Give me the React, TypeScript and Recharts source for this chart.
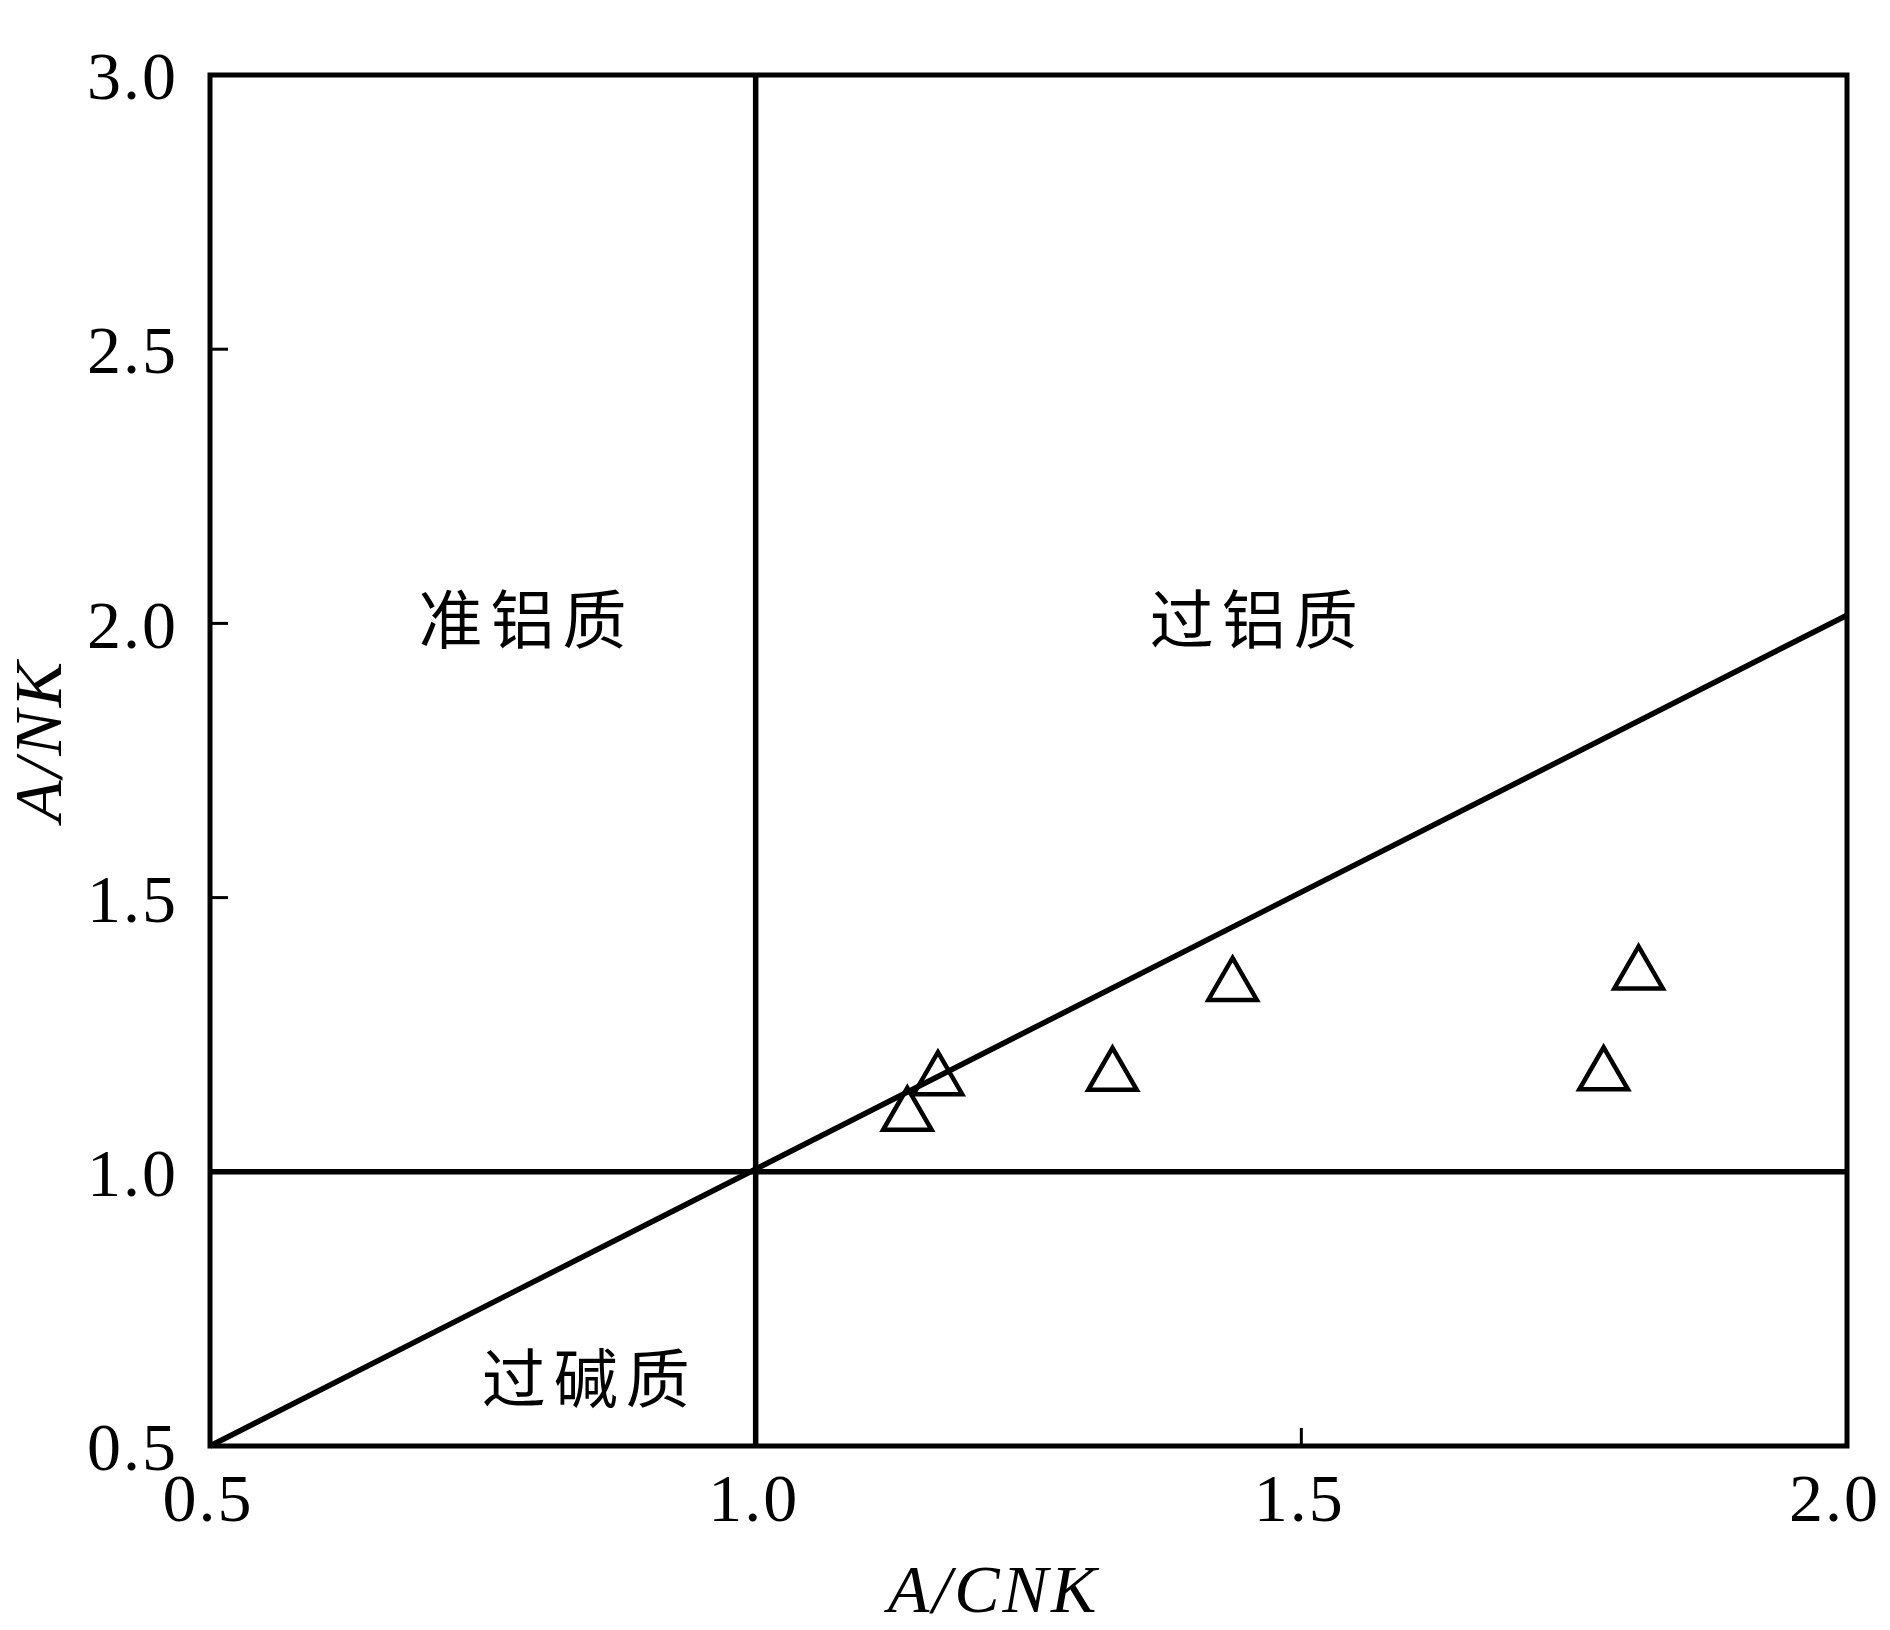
import React from 'react';
import {
  ScatterChart,
  Scatter,
  XAxis,
  YAxis,
  ReferenceLine,
  ReferenceArea,
} from 'recharts';

// Axis ticks
const xTicks = [0.5, 1.0, 1.5, 2.0];
const yTicks = [0.5, 1.0, 1.5, 2.0, 2.5, 3.0];

// Sample values (A/CNK, A/NK)
const sampleACNK = [1.139, 1.167, 1.327, 1.437, 1.777, 1.809];
const sampleANK = [1.102, 1.167, 1.175, 1.339, 1.176, 1.36];

// Boundary (diagonal) line endpoints
const boundaryX = [0.5, 2.0];
const boundaryY = [0.5, 2.015];

// Field labels
const fieldNames = ['准铝质', '过铝质', '过碱质'];
const fieldX = [0.79, 1.46, 0.848];
const fieldY = [2.015, 2.015, 0.631];

const samples = sampleACNK.map((x, i) => ({ x, y: sampleANK[i] }));
const fields = fieldNames.map((name, i) => ({ name, x: fieldX[i], y: fieldY[i] }));

const serif = "'Liberation Serif', 'Times New Roman', serif";
const cjk = "'Noto Sans CJK SC', sans-serif";

const Triangle = (props: any) => {
  const { cx, cy } = props;
  if (cx == null || cy == null) return null;
  const r = 14;
  const hw = Math.sqrt(3) * r;
  const d = `M${cx},${cy - 2 * r}L${cx + hw},${cy + r}L${cx - hw},${cy + r}Z`;
  return <path d={d} fill="none" stroke="#000" strokeWidth={4.5} strokeLinejoin="miter" />;
};

const FieldLabel = (props: any) => {
  const { cx, cy, payload } = props;
  if (cx == null || cy == null) return null;
  return (
    <text
      x={cx}
      y={cy}
      textAnchor="middle"
      dominantBaseline="central"
      fontFamily={cjk}
      fontSize={64}
      letterSpacing={8}
      fill="#000"
    >
      {payload.name}
    </text>
  );
};

const XTick = (props: any) => {
  const { x, y, payload, index } = props;
  const last = index === xTicks.length - 1;
  return (
    <text
      x={last ? x + 33 : x - 2}
      y={y}
      dy="0.71em"
      textAnchor={last ? 'end' : 'middle'}
      fontFamily={serif}
      fontSize={68}
      letterSpacing={2}
      fill="#000"
    >
      {Number(payload.value).toFixed(1)}
    </text>
  );
};

const XLabel = (props: any) => {
  const vb = props.viewBox || {};
  const x = vb.x + vb.width / 2 - 35;
  const y = vb.y + 166;
  return (
    <text x={x} y={y} textAnchor="middle" fontFamily={serif} fontStyle="italic" fontSize={68} letterSpacing={3} fill="#000">
      A/CNK
    </text>
  );
};

const YLabel = (props: any) => {
  const vb = props.viewBox || {};
  const x = 61;
  const y = vb.y + vb.height / 2 - 20;
  return (
    <text
      x={x}
      y={y}
      transform={`rotate(-90, ${x}, ${y})`}
      textAnchor="middle"
      fontFamily={serif}
      fontStyle="italic"
      fontSize={68}
      letterSpacing={3}
      fill="#000"
    >
      A/NK
    </text>
  );
};

const tickStyle = { fontFamily: serif, fontSize: 68, fill: '#000', letterSpacing: 2 };

export default function App() {
  return (
    <div style={{ position: 'absolute', left: 0, top: 0, width: 1890, height: 1630, background: '#fff' }}>
      <ScatterChart
        width={1890}
        height={1630}
        margin={{ top: 75, right: 43, bottom: 0, left: 0 }}
      >
        <XAxis
          type="number"
          dataKey="x"
          domain={[0.5, 2.0]}
          ticks={xTicks}
          allowDataOverflow
          tickFormatter={(v: number) => v.toFixed(1)}
          height={184}
          axisLine={false}
          tickLine={{ stroke: '#000', strokeWidth: 3 }}
          tickSize={-18}
          tickMargin={45}
          tick={<XTick />}
          interval={0}
          label={<XLabel />}
        />
        <YAxis
          type="number"
          dataKey="y"
          domain={[0.5, 3.0]}
          ticks={yTicks}
          allowDataOverflow
          tickFormatter={(v: number) => v.toFixed(1)}
          width={210}
          axisLine={false}
          tickLine={{ stroke: '#000', strokeWidth: 3 }}
          tickSize={-18}
          tickMargin={50}
          tick={tickStyle}
          interval={0}
          label={<YLabel />}
        />
        <ReferenceArea
          x1={0.5}
          x2={2.0}
          y1={0.5}
          y2={3.0}
          fill="none"
          fillOpacity={0}
          stroke="#000"
          strokeWidth={5}
          ifOverflow="visible"
        />
        <ReferenceLine x={1.0} stroke="#000" strokeWidth={5.5} />
        <ReferenceLine y={1.0} stroke="#000" strokeWidth={5.5} />
        <ReferenceLine
          segment={[
            { x: boundaryX[0], y: boundaryY[0] },
            { x: boundaryX[1], y: boundaryY[1] },
          ]}
          stroke="#000"
          strokeWidth={5.5}
          ifOverflow="visible"
        />
        <Scatter data={samples} shape={<Triangle />} isAnimationActive={false} />
        <Scatter data={fields} shape={<FieldLabel />} isAnimationActive={false} />
      </ScatterChart>
    </div>
  );
}
